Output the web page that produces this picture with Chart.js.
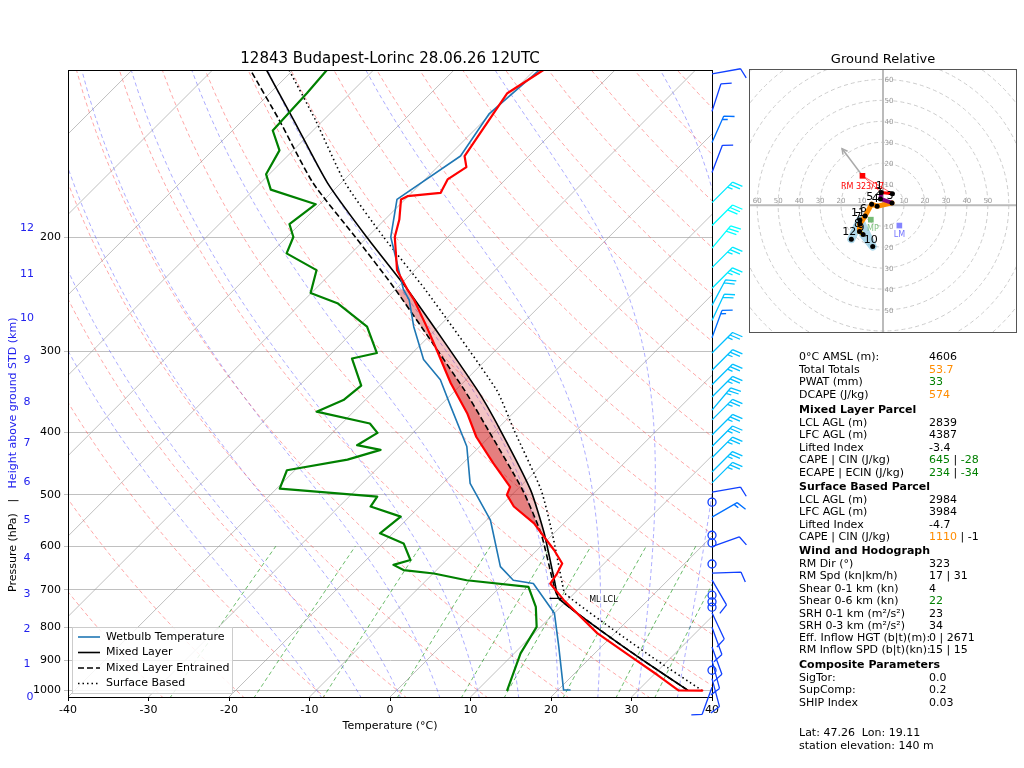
<!DOCTYPE html>
<html>
<head>
<meta charset="utf-8">
<script src="https://cdn.jsdelivr.net/npm/chart.js@4.4.1/dist/chart.umd.min.js"></script>
<style>
  body { margin: 0; background: #fff; font-family: "DejaVu Sans", sans-serif; }
  #wrap { position: relative; width: 1024px; height: 768px; overflow: hidden; }
  #skewt { position: absolute; left: 0; top: 0; }
  #hodo { position: absolute; left: 749px; top: 69px; }
  #hodoTitle { position: absolute; left: 749px; width: 268px; top: 51px; text-align: center; font-size: 13px; }
  .row { position: absolute; left: 799px; font-size: 11px; white-space: nowrap; line-height: 13px; }
  .row .v { position: absolute; left: 130px; }
  .row.h { font-weight: bold; }
</style>
</head>
<body>
<div id="wrap">
  <canvas id="skewt" width="1024" height="768"></canvas>
  <div id="hodoTitle">Ground Relative</div>
  <canvas id="hodo" width="268" height="264"></canvas>
</div>
<script>
// ---- sounding data (hPa, °C) ----
const tempP = [1002, 1001, 948, 888, 817, 726, 685, 661, 638, 608, 580, 553, 521, 500, 486, 447, 407, 374, 336, 299, 275, 250, 241, 225, 200, 188, 175, 173, 171, 163, 156, 150, 129, 120, 110.5];
const tempT = [38.0, 35.0, 30.5, 24.9, 17.8, 9.5, 5.8, 5.4, 4.8, 2.1, -0.8, -3.7, -8.3, -10.6, -11.2, -16.2, -21.6, -25.7, -31.5, -37.3, -41.5, -46.4, -48.5, -52.2, -56.6, -58.2, -60.5, -60.1, -56.4, -57.2, -56.4, -58.0, -59.7, -60.5, -58.9];
const dewP = [1000, 878, 799, 744, 693, 677, 661, 653, 641, 630, 594, 573, 540, 521, 503, 489, 458, 441, 426, 419, 401, 388, 372, 357, 339, 308, 302, 275, 253, 244, 225, 212, 200, 191, 178, 169, 160, 147, 137, 120, 110.5];
const dewT = [13.7, 10.8, 9.5, 6.9, 3.5, -5.0, -9.9, -14.1, -16.0, -14.5, -17.4, -21.6, -21.1, -26.1, -26.5, -39.6, -41.0, -34.8, -31.9, -35.4, -34.4, -36.5, -44.6, -42.7, -42.3, -46.8, -44.4, -48.9, -55.5, -60.1, -62.2, -68.0, -69.2, -71.3, -70.5, -77.9, -80.4, -81.7, -85.0, -85.4, -85.8];
const wbP = [1000, 1000, 857, 761, 685, 677, 645, 547, 480, 421, 365, 332, 309, 275, 250, 241, 200, 175, 150, 129, 110.5];
const wbT = [21.5, 20.7, 14.7, 10.0, 3.7, 0.8, -2.5, -9.5, -16.6, -21.6, -28.6, -33.2, -37.8, -43.1, -47.0, -49.0, -57.1, -61.0, -58.5, -60.2, -59.4];
const mlP = [1000, 900, 817, 722, 685, 573, 491, 397, 344, 241, 200, 165, 132, 110.5];
const mlT = [36.1, 26.9, 18.7, 8.7, 6.4, -1.2, -8.3, -19.5, -27.4, -48.5, -60.1, -71.7, -83.7, -93.3];
const entT = [36.1, 26.9, 18.7, 8.7, 6.2, -1.6, -9.3, -21.0, -29.0, -50.0, -61.5, -73.5, -85.5, -95.3];
const sbP = [1002, 900, 817, 710, 685, 573, 491, 397, 344, 241, 200, 165, 132, 110.5];
const sbT = [38.0, 28.6, 20.4, 8.9, 7.3, -0.2, -7.0, -17.8, -25.0, -46.3, -58.0, -69.5, -81.0, -90.5];
const lclP = 722;
const lclMarkT = [7.6, 9.0];
const capeRange = [241, 580];

// ---- axes ----
const pTicks = [1000, 900, 800, 700, 600, 500, 400, 300, 200];
const heightKm = [0, 1, 2, 3, 4, 5, 6, 7, 8, 9, 10, 11, 12];
const heightP = [1025, 912, 805, 711, 626, 547, 478, 416, 359, 310, 267, 228, 194];

// ---- winds ----
const barbP = [112, 128, 143, 159, 177, 192, 208, 223, 240, 255, 269, 286, 302, 321, 338, 353, 370, 383, 404, 421, 438, 461, 479, 495, 513, 541, 577, 593, 601, 639, 660, 676, 714, 731, 745, 760, 800, 858, 900, 932, 960, 990];
const barbDir = [80, 18, 24, 21, 45, 45, 40, 45, 45, 28, 25, 20, 45, 45, 45, 45, 40, 45, 45, 45, 45, 45, 45, 80, 0, 60, 0, 0, 70, 0, 88, 150, 0, 0, 0, 155, 160, 160, 165, 0, 165, 200];
const barbSpd = [10, 10, 15, 10, 25, 30, 30, 25, 25, 20, 20, 15, 25, 25, 25, 25, 25, 25, 25, 25, 25, 25, 25, 10, 0, 15, 0, 0, 10, 0, 10, 10, 0, 0, 0, 10, 10, 10, 10, 0, 10, 10];

// ---- hodograph (kt) ----
const hodoH = [0, 1, 2, 3, 4, 5, 6, 7, 8, 9, 10, 11, 12];
const hodoU = [4.5, -0.8, -1.2, 4.3, -2.8, -5.4, -8.5, -11.0, -11.2, -9.5, -4.9, -11.0, -15.1];
const hodoV = [5.5, 6.0, 3.0, 1.1, -0.5, 0.5, -5.1, -9.0, -12.5, -14.0, -19.7, -7.0, -16.2];
const rm = [-9.8, 14.0], lm = [7.8, -9.7], mp = [-5.8, -6.9], rmArrow = [-19.5, 26.9];

// ---- skew transform ----
const P_BOT = 1025, P_TOP = 110.5, SKEW = 35.0;
const X = (t, p) => t + SKEW * Math.log(P_BOT / p);
const prof = (ps, ts) => ps.map((p, i) => ({ x: X(ts[i], p), y: p }));

function line(data, color, width, dash, order, extra) {
  return Object.assign({ data, borderColor: color, borderWidth: width, borderDash: dash || [],
    showLine: true, pointRadius: 0, fill: false, tension: 0, order, borderJoinStyle: 'round', borderCapStyle: 'round' }, extra || {});
}

const ds = [];
// background: isotherms
for (let t = -130; t <= 40; t += 10)
  ds.push(line([{ x: X(t, P_BOT), y: P_BOT }, { x: X(t, P_TOP), y: P_TOP }], 'rgba(150,150,150,0.6)', 1, [], 10));
const gridP = [];
for (let p = 1030; p >= 110; p -= 10) gridP.push(p);
// dry adiabats
for (let th = -30; th <= 220; th += 10)
  ds.push(line(gridP.map(p => ({ x: X((th + 273.15) * Math.pow(p / 1000, 0.2857) - 273.15, p), y: p })), 'rgba(255,60,60,0.45)', 1, [4, 3], 10, { borderCapStyle: 'butt' }));
// moist adiabats
function es(tc) { return 6.112 * Math.exp(17.67 * tc / (tc + 243.5)); }
function dTdp(T, p) {
  const e = es(T - 273.15), rs = 0.622 * e / (p - e);
  return (287.04 * T + 2.501e6 * rs) / (p * (1005.7 + 2.501e6 * 2.501e6 * rs * 0.622 / (287.04 * T * T)));
}
for (let t0 = -10; t0 <= 45; t0 += 5) {
  const pts = [];
  let T = t0 + 273.15;
  for (let p = 1000; p < 1030; p += 5) T += dTdp(T, p) * 5;
  for (let p = 1030; p >= 110; p -= 5) {
    if (p % 10 === 0) pts.push({ x: X(T - 273.15, p), y: p });
    T -= dTdp(T, p) * 5;
  }
  ds.push(line(pts, 'rgba(70,70,255,0.45)', 1, [4, 3], 10, { borderCapStyle: 'butt' }));
}
// mixing ratio lines (g/kg)
const mixW = [0.4, 1, 2, 4, 7, 10, 16, 24, 32];
for (const w of mixW) {
  const pts = [];
  for (let p = 1030; p >= 600; p -= 10) {
    const e = w * p / (622 + w), l = Math.log(e / 6.112);
    pts.push({ x: X(243.5 * l / (17.67 - l), p), y: p });
  }
  ds.push(line(pts, 'rgba(0,140,0,0.6)', 1, [4, 3], 10, { borderCapStyle: 'butt' }));
}
// profiles
ds.push(line(prof(mlP, mlT), '#000', 1.6, [], 6, { label: 'ml', tension: 0.2 }));
ds.push(line(prof(mlP, entT), '#000', 1.6, [6, 3], 5, { tension: 0.2, borderCapStyle: 'butt' }));
ds.push(line(prof(sbP, sbT), '#000', 1.6, [1.5, 3], 5, { tension: 0.2, borderCapStyle: 'butt' }));
ds.push(line(prof(wbP, wbT), '#1f77b4', 1.6, [], 4));
ds.push(line(prof(dewP, dewT), 'green', 2.2, [], 3));
ds.push(line(prof(tempP, tempT), 'red', 2.2, [], 2));
ds.push(line(lclMarkT.map(t => ({ x: X(t, lclP), y: lclP })), '#000', 1.2, [], 1));

function poly(c, sx, sy, a, b, color) {
  c.beginPath();
  a.concat(b.slice().reverse()).forEach((pt, i) => {
    const px = sx.getPixelForValue(pt.x), py = sy.getPixelForValue(pt.y);
    i ? c.lineTo(px, py) : c.moveTo(px, py);
  });
  c.closePath(); c.fillStyle = color; c.fill();
}
const inCape = pt => pt.y >= capeRange[0] && pt.y <= capeRange[1];

const skewPlugin = {
  id: 'skew',
  beforeDatasetDraw(chart, args) {
    if (chart.data.datasets[args.index].label !== 'ml') return;
    const c = chart.ctx, sx = chart.scales.x, sy = chart.scales.y, a = chart.chartArea;
    c.save(); c.beginPath(); c.rect(a.left, a.top, a.right - a.left, a.bottom - a.top); c.clip();
    const tp = prof(tempP, tempT).filter(inCape);
    poly(c, sx, sy, tp, prof(mlP, mlT).filter(inCape), 'rgba(220,60,60,0.3)');
    poly(c, sx, sy, tp, prof(mlP, entT).filter(inCape), 'rgba(200,0,0,0.35)');
    c.restore();
  },
  afterDraw(chart) {
    const c = chart.ctx, a = chart.chartArea, sy = chart.scales.y;
    c.save();
    c.strokeStyle = '#000'; c.lineWidth = 1;
    c.strokeRect(a.left + 0.5, a.top + 0.5, a.right - a.left, a.bottom - a.top);
    c.fillStyle = '#000'; c.textAlign = 'center';
    c.font = '15px "DejaVu Sans"';
    c.fillText('12843 Budapest-Lorinc 28.06.26 12UTC', (a.left + a.right) / 2, 63);
    c.font = '11px "DejaVu Sans"';
    c.fillText('Temperature (°C)', (a.left + a.right) / 2, 729);
    c.font = '8px "DejaVu Sans"'; c.textAlign = 'left';
    c.fillText('ML LCL', chart.scales.x.getPixelForValue(X(lclMarkT[1], lclP)) + 28, sy.getPixelForValue(lclP) + 4);
    // height labels
    c.fillStyle = '#2222ee'; c.font = '11px "DejaVu Sans"'; c.textAlign = 'center'; c.textBaseline = 'middle';
    heightKm.forEach((h, i) => c.fillText(String(h), h === 0 ? 30 : 27, sy.getPixelForValue(heightP[i])));
    // axis title
    c.save(); c.translate(13, 592); c.rotate(-Math.PI / 2); c.textAlign = 'left';
    const parts = [['Pressure (hPa)', '#000'], ['   |   ', '#000'], ['Height above ground STD (km)', '#2222ee']];
    let off = 0;
    parts.forEach(([t, col]) => { c.fillStyle = col; c.fillText(t, off, 0); off += c.measureText(t).width; });
    c.restore();
    // legend
    const lx = a.left + 4, ly = a.bottom - 70;
    c.fillStyle = 'rgba(255,255,255,0.85)'; c.strokeStyle = '#ccc';
    c.fillRect(lx, ly, 160, 66); c.strokeRect(lx + 0.5, ly + 0.5, 160, 66);
    const items = [['Wetbulb Temperature', '#1f77b4', []], ['Mixed Layer', '#000', []], ['Mixed Layer Entrained', '#000', [6, 3]], ['Surface Based', '#000', [1.5, 3]]];
    c.textAlign = 'left'; c.font = '11px "DejaVu Sans"';
    items.forEach(([t, col, dash], i) => {
      const y = ly + 10 + i * 15.5;
      c.strokeStyle = col; c.lineWidth = 1.6; c.setLineDash(dash);
      c.beginPath(); c.moveTo(lx + 6, y); c.lineTo(lx + 28, y); c.stroke();
      c.setLineDash([]); c.fillStyle = '#000'; c.fillText(t, lx + 34, y);
    });
    // wind barbs
    barbP.forEach((p, i) => {
      const bx = a.right, by = sy.getPixelForValue(p), spd = barbSpd[i];
      const col = spd >= 30 ? '#00ffff' : spd >= 25 ? (p < 300 ? '#00eaff' : '#00bfff') : spd >= 20 ? '#00c8ff' : spd >= 15 ? '#0070ff' : '#1040ff';
      c.strokeStyle = col; c.lineWidth = 1.3;
      if (spd < 2.5) { c.beginPath(); c.arc(bx, by, 4, 0, 2 * Math.PI); c.stroke(); return; }
      const r = barbDir[i] * Math.PI / 180, sx = Math.sin(r), syy = -Math.cos(r), L = 29;
      const tx = bx + sx * L, ty = by + syy * L, qx = -syy, qy = sx;
      c.beginPath(); c.moveTo(bx, by); c.lineTo(tx, ty);
      let rest = spd, k = 0;
      while (rest >= 5) {
        const f = rest >= 10 ? 1 : 0.5, d = k * 3.5;
        const ox = tx - sx * d, oy = ty - syy * d;
        if (f === 0.5 && k === 0) { k++; continue; }
        c.moveTo(ox, oy); c.lineTo(ox + (qx * 10 + sx * 4) * f, oy + (qy * 10 + syy * 4) * f);
        rest -= f * 10; k++;
      }
      c.stroke();
    });
    c.restore();
  }
};

new Chart(document.getElementById('skewt'), {
  type: 'scatter',
  data: { datasets: ds },
  options: {
    responsive: false, animation: false, events: [],
    layout: { padding: { left: 0, top: 70, right: 312, bottom: 0 } },
    plugins: { legend: { display: false }, tooltip: { enabled: false } },
    scales: {
      x: { type: 'linear', min: -40, max: 40,
        ticks: { stepSize: 10, color: '#000', font: { size: 11, family: 'DejaVu Sans' } },
        grid: { drawOnChartArea: false, color: '#000', tickLength: 4 },
        afterFit: s => { s.height = 71; } },
      y: { type: 'logarithmic', reverse: true, min: P_TOP, max: P_BOT,
        afterBuildTicks: s => { s.ticks = pTicks.map(v => ({ value: v })); },
        ticks: { autoSkip: false, color: '#000', font: { size: 11, family: 'DejaVu Sans' }, callback: v => String(v) },
        grid: { color: '#c0c0c0', tickLength: 4 },
        afterFit: s => { s.width = 68; } }
    }
  },
  plugins: [skewPlugin]
});

// ---- hodograph ----
const hodoSegs = [[0, 1, 'red', 3], [1, 3, 'purple', 4], [3, 8, 'darkorange', 5], [7, 9, 'gold', 4], [9, 12, 'rgba(120,190,220,0.6)', 8]];
const hds = [];
hodoSegs.forEach(([a, b, col, w]) => hds.push(line(hodoU.slice(a, b + 1).map((u, i) => ({ x: u, y: hodoV[a + i] })), col, w, [], 5)));
hds.push(line([{ x: rm[0], y: rm[1] }, { x: rmArrow[0], y: rmArrow[1] }], '#aaa', 1.5, [], 4));
hds.push(line([{ x: hodoU[0], y: hodoV[0] }, { x: rm[0], y: rm[1] }, { x: hodoU[1], y: hodoV[1] }], 'rgba(255,0,0,0.6)', 1, [], 4));
hds.push({ data: hodoU.map((u, i) => ({ x: u, y: hodoV[i] })), pointRadius: 2.5, backgroundColor: '#000', borderWidth: 0, order: 1 });
hds.push({ data: [{ x: rm[0], y: rm[1] }], pointStyle: 'rect', pointRadius: 4, backgroundColor: 'red', borderWidth: 0, order: 1 });
hds.push({ data: [{ x: lm[0], y: lm[1] }], pointStyle: 'rect', pointRadius: 4, backgroundColor: 'rgba(80,80,255,0.7)', borderWidth: 0, order: 1 });
hds.push({ data: [{ x: mp[0], y: mp[1] }], pointStyle: 'rect', pointRadius: 4, backgroundColor: 'rgba(60,160,60,0.7)', borderWidth: 0, order: 1 });

const hodoPlugin = {
  id: 'hodo',
  beforeDatasetsDraw(chart) {
    const c = chart.ctx, sx = chart.scales.x, sy = chart.scales.y;
    const cx = sx.getPixelForValue(0), cy = sy.getPixelForValue(0), k = sx.getPixelForValue(10) - cx;
    c.save();
    c.strokeStyle = '#ccc'; c.lineWidth = 1; c.setLineDash([4, 3]);
    for (let r = 1; r <= 9; r++) { c.beginPath(); c.arc(cx, cy, r * k, 0, 2 * Math.PI); c.stroke(); }
    c.setLineDash([]); c.strokeStyle = '#bbb'; c.lineWidth = 2;
    c.beginPath(); c.moveTo(0, cy); c.lineTo(chart.width, cy); c.moveTo(cx, 0); c.lineTo(cx, chart.height); c.stroke();
    c.fillStyle = '#999'; c.font = '7px "DejaVu Sans"'; c.textAlign = 'center';
    for (let r = 10; r <= 60; r += 10) {
      c.fillText(String(r), cx - r / 10 * k, cy - 2); if (r < 60) c.fillText(String(r), cx + r / 10 * k, cy - 2);
      c.fillText(String(r), cx + 6, cy - r / 10 * k + 3); if (r < 60) c.fillText(String(r), cx + 6, cy + r / 10 * k + 3);
    }
    c.restore();
  },
  afterDatasetsDraw(chart) {
    const c = chart.ctx, sx = chart.scales.x, sy = chart.scales.y;
    c.save();
    // arrow head
    const ax = sx.getPixelForValue(rmArrow[0]), ay = sy.getPixelForValue(rmArrow[1]);
    const bx = sx.getPixelForValue(rm[0]), by = sy.getPixelForValue(rm[1]);
    const ang = Math.atan2(ay - by, ax - bx);
    c.strokeStyle = '#aaa'; c.lineWidth = 1.5; c.beginPath();
    c.moveTo(ax - 6 * Math.cos(ang - 0.5), ay - 6 * Math.sin(ang - 0.5)); c.lineTo(ax, ay);
    c.lineTo(ax - 6 * Math.cos(ang + 0.5), ay - 6 * Math.sin(ang + 0.5)); c.stroke();
    c.font = '11px "DejaVu Sans"'; c.fillStyle = '#000'; c.textAlign = 'center';
    hodoH.forEach((h, i) => { if (h > 0) c.fillText(String(h), sx.getPixelForValue(hodoU[i]) - 2, sy.getPixelForValue(hodoV[i]) - 4); });
    c.font = '8px "DejaVu Sans"';
    c.fillStyle = 'red'; c.fillText('RM 323/17', bx, by + 13);
    c.fillStyle = 'rgba(80,80,255,0.8)'; c.fillText('LM', sx.getPixelForValue(lm[0]), sy.getPixelForValue(lm[1]) + 11);
    c.fillStyle = 'rgba(100,180,100,0.8)'; c.fillText('MP', sx.getPixelForValue(mp[0]) + 2, sy.getPixelForValue(mp[1]) + 11);
    c.strokeStyle = '#555'; c.lineWidth = 1; c.strokeRect(0.5, 0.5, chart.width - 1, chart.height - 1);
    c.restore();
  }
};

new Chart(document.getElementById('hodo'), {
  type: 'scatter',
  data: { datasets: hds },
  options: {
    responsive: false, animation: false, events: [],
    layout: { padding: 0 },
    plugins: { legend: { display: false }, tooltip: { enabled: false } },
    scales: { x: { display: false, min: -62, max: 62 }, y: { display: false, min: -59, max: 63 } }
  },
  plugins: [hodoPlugin]
});

// ---- parameter table ----
const rows = [
  [350, '0°C AMSL (m):', '4606'], [362.5, 'Total Totals', '<span style="color:darkorange">53.7</span>'],
  [375, 'PWAT (mm)', '<span style="color:green">33</span>'], [387.5, 'DCAPE (J/kg)', '<span style="color:darkorange">574</span>'],
  [403, 'Mixed Layer Parcel', null], [415.5, 'LCL AGL (m)', '2839'], [428, 'LFC AGL (m)', '4387'],
  [440.5, 'Lifted Index', '-3.4'], [453, 'CAPE | CIN (J/kg)', '<span style="color:green">645</span> | <span style="color:green">-28</span>'],
  [465.5, 'ECAPE | ECIN (J/kg)', '<span style="color:green">234</span> | <span style="color:green">-34</span>'],
  [480, 'Surface Based Parcel', null], [492.5, 'LCL AGL (m)', '2984'], [505, 'LFC AGL (m)', '3984'],
  [517.5, 'Lifted Index', '-4.7'], [530, 'CAPE | CIN (J/kg)', '<span style="color:darkorange">1110</span> | -1'],
  [544, 'Wind and Hodograph', null], [556.5, 'RM Dir (°)', '323'], [569, 'RM Spd (kn|km/h)', '17 | 31'],
  [581.5, 'Shear 0-1 km (kn)', '4'], [594, 'Shear 0-6 km (kn)', '<span style="color:green">22</span>'],
  [606.5, 'SRH 0-1 km (m²/s²)', '23'], [619, 'SRH 0-3 km (m²/s²)', '34'],
  [631, 'Eff. Inflow HGT (b|t)(m):', '0 | 2671'], [643, 'RM Inflow SPD (b|t)(kn):', '15 | 15'],
  [658, 'Composite Parameters', null], [670.5, 'SigTor:', '0.0'], [683, 'SupComp:', '0.2'], [695.5, 'SHIP Index', '0.03'],
  [726, 'Lat: 47.26  Lon: 19.11', ''], [738.5, 'station elevation: 140 m', '']
];
const wrap = document.getElementById('wrap');
rows.forEach(([y, label, val]) => {
  const d = document.createElement('div');
  d.className = 'row' + (val === null ? ' h' : '');
  d.style.top = y + 'px';
  d.innerHTML = label.replace(/ {2}/g, '&nbsp;&nbsp;') + (val ? '<span class="v">' + val + '</span>' : '');
  wrap.appendChild(d);
});
</script>
</body>
</html>
